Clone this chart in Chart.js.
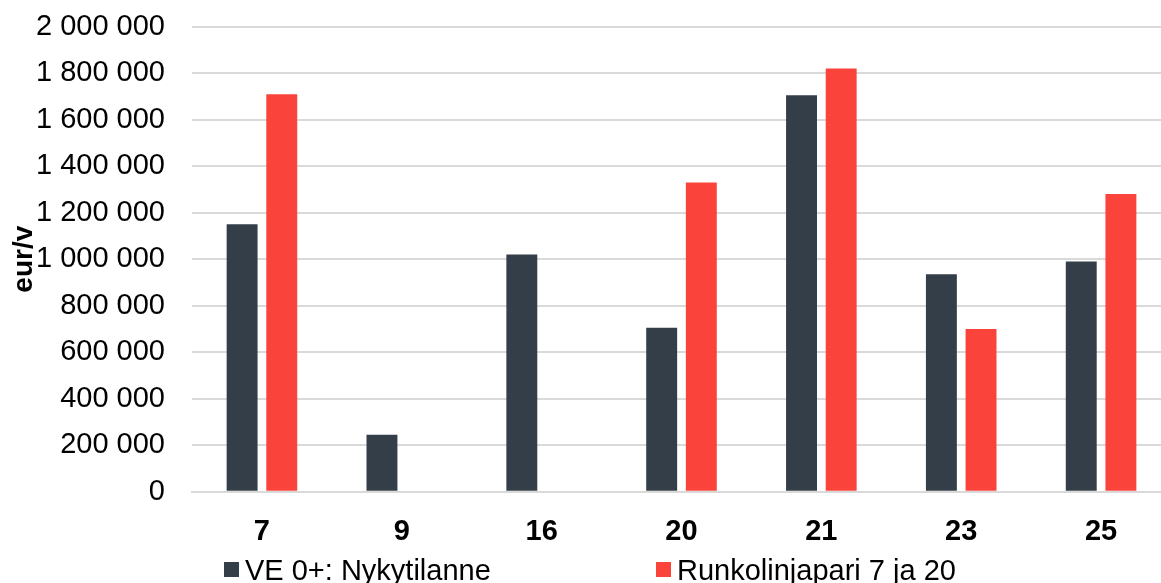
<!DOCTYPE html>
<html>
<head>
<meta charset="utf-8">
<script src="https://cdn.jsdelivr.net/npm/chart.js@4/dist/chart.umd.min.js"></script>
<style>
  html, body { margin: 0; padding: 0; background: #fff; overflow: hidden; }
  #wrap { position: relative; width: 1171px; height: 583px; }
</style>
</head>
<body>
<div id="wrap"><canvas id="c"></canvas></div>
<script>
// Lines and yearly cost (eur/v) for the two scenarios
const lines = ['7', '9', '16', '20', '21', '23', '25'];
const nykytilanne = [1150000, 245000, 1020000, 705000, 1705000, 935000, 990000];
const runkolinjapari = [1710000, null, null, 1330000, 1820000, 700000, 1280000];
const seriesNames = ['VE 0+: Nykytilanne', 'Runkolinjapari 7 ja 20'];
const seriesColors = ['#343e48', '#fa443b'];
const yTicks = { min: 0, max: 2000000, step: 200000 };

const FONT = "'Liberation Sans', Arial, sans-serif";

function spaced(v) {
  return String(v).replace(/\B(?=(\d{3})+(?!\d))/g, ' ');
}

// Bottom legend: square swatch followed by the series name
const bottomLegend = {
  id: 'bottomLegend',
  afterDraw(chart) {
    const ctx = chart.ctx;
    const left = chart.chartArea.left;
    ctx.save();
    ctx.font = '29px ' + FONT;
    ctx.textBaseline = 'alphabetic';
    ctx.textAlign = 'left';
    chart.data.datasets.forEach((ds, i) => {
      const x = left + 32 + i * 432;
      ctx.fillStyle = ds.backgroundColor;
      ctx.fillRect(x, 562, 15, 15);
      ctx.fillStyle = '#000';
      ctx.fillText(ds.label, x + 21, 580);
    });
    ctx.restore();
  }
};

new Chart(document.getElementById('c'), {
  type: 'bar',
  data: {
    labels: lines,
    datasets: [
      { label: seriesNames[0], data: nykytilanne, backgroundColor: seriesColors[0] },
      { label: seriesNames[1], data: runkolinjapari, backgroundColor: seriesColors[1] }
    ]
  },
  options: {
    responsive: true,
    maintainAspectRatio: false,
    animation: false,
    events: [],
    categoryPercentage: 0.567,
    barPercentage: 0.78,
    layout: { padding: { top: 26.7, left: 0, right: 0, bottom: 0 } },
    plugins: {
      legend: { display: false },
      tooltip: { enabled: false }
    },
    scales: {
      x: {
        offset: true,
        grid: { display: false, drawTicks: false },
        border: { display: true, color: '#d9d9d9', width: 2 },
        ticks: {
          color: '#000',
          padding: 23,
          font: { family: FONT, size: 29, weight: 'bold' }
        },
        afterFit(scale) { scale.height = 91.3; }
      },
      y: {
        min: yTicks.min,
        max: yTicks.max,
        grid: { color: '#d9d9d9', lineWidth: 2, drawTicks: false },
        border: { display: false },
        ticks: {
          stepSize: yTicks.step,
          color: '#000',
          padding: 27,
          font: { family: FONT, size: 29 },
          callback: (v) => spaced(v)
        },
        title: {
          display: true,
          text: 'eur/v',
          color: '#000',
          padding: { top: 7, bottom: 0 },
          font: { family: FONT, size: 28, weight: 'bold' }
        },
        afterFit(scale) {
          scale.width = 192;
          scale.paddingTop = 0;
          scale.paddingBottom = 0;
        }
      }
    }
  },
  plugins: [bottomLegend]
});
</script>
</body>
</html>
